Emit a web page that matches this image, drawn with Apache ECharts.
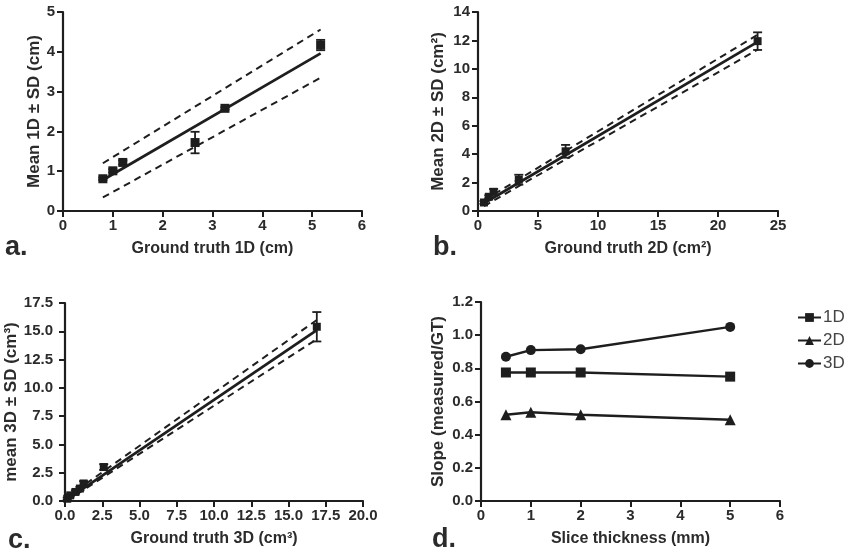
<!DOCTYPE html>
<html>
<head>
    <meta charset="utf-8">
    <title>Measured vs ground truth</title>
    <script src="https://cdn.jsdelivr.net/npm/echarts@6.0.0/dist/echarts.min.js"></script>
    <style>
        html, body { margin: 0; padding: 0; background: #fff; }
    </style>
</head>
<body>
    <div id="chart" style="width:849px; height:552px"></div>

    <script>
        // panel a: 1D
        const aX = [0.8, 1.0, 1.2, 2.65, 3.25, 5.17];
        const aY = [0.81, 1.01, 1.22, 1.72, 2.58, 4.17];
        const aSD = [0.03, 0.04, 0.05, 0.27, 0.03, 0.13];
        const aFitX = [0.8, 5.17];
        const aFit = [0.78, 3.96];
        const aUpper = [1.2, 4.56];
        const aLower = [0.34, 3.35];

        // panel b: 2D
        const bX = [0.5, 0.9, 1.3, 3.4, 7.3, 23.3];
        const bY = [0.6, 1.0, 1.35, 2.2, 4.2, 11.95];
        const bSD = [0.1, 0.1, 0.2, 0.35, 0.45, 0.62];
        const bFitX = [0.5, 23.3];
        const bFit = [0.55, 11.9];
        const bUpper = [0.75, 12.4];
        const bLower = [0.35, 11.35];

        // panel c: 3D
        const cX = [0.15, 0.35, 0.7, 1.0, 1.25, 2.6, 16.9];
        const cY = [0.2, 0.5, 0.8, 1.1, 1.55, 3.0, 15.4];
        const cSD = [0.1, 0.1, 0.15, 0.15, 0.2, 0.25, 1.3];
        const cFitX = [0.1, 16.9];
        const cFit = [0.1, 15.1];
        const cUpper = [0.3, 16.0];
        const cLower = [0.0, 14.3];

        // panel d: slope vs slice thickness
        const dX = [0.5, 1, 2, 5];
        const d1D = [0.775, 0.775, 0.775, 0.75];
        const d2D = [0.52, 0.535, 0.52, 0.49];
        const d3D = [0.87, 0.91, 0.915, 1.05];

        const ink = '#1e1e1e';
        const txt = '#2b2b2b';
        const font = '"Liberation Sans", Arial, sans-serif';

        let chart = echarts.init(document.getElementById('chart'));

        function pairs(xs, ys) {
            return xs.map((x, i) => [x, ys[i]]);
        }

        function makeX(idx, name, min, max, interval, fmt) {
            return {
                type: 'value', gridIndex: idx, min: min, max: max, interval: interval,
                name: name, nameLocation: 'middle', nameGap: 30,
                nameTextStyle: { fontFamily: font, fontWeight: 'bold', fontSize: 16, color: txt },
                axisLine: { show: true, onZero: false, lineStyle: { color: ink, width: 2.2 } },
                axisTick: { show: true, length: 6, lineStyle: { color: ink, width: 2 } },
                axisLabel: { fontFamily: font, fontWeight: 'bold', fontSize: 15, color: txt, margin: 7, formatter: fmt },
                splitLine: { show: false }
            };
        }

        function makeY(idx, name, min, max, interval, gap, margin, fmt) {
            return {
                type: 'value', gridIndex: idx, min: min, max: max, interval: interval,
                name: name, nameLocation: 'middle', nameGap: gap,
                nameTextStyle: { fontFamily: font, fontWeight: 'bold', fontSize: 17, color: txt },
                axisLine: { show: true, onZero: false, lineStyle: { color: ink, width: 2.2 } },
                axisTick: { show: true, length: 6, lineStyle: { color: ink, width: 2 } },
                axisLabel: { fontFamily: font, fontWeight: 'bold', fontSize: 15, color: txt, margin: margin, formatter: fmt },
                splitLine: { show: false }
            };
        }

        function errorBars(idx, xs, ys, sds) {
            return {
                type: 'custom', xAxisIndex: idx, yAxisIndex: idx,
                data: xs.map((x, i) => [x, ys[i], sds[i]]),
                encode: { x: 0, y: 1 },
                silent: true, z: 3,
                renderItem: function(params, api) {
                    let x = api.value(0), y = api.value(1), sd = api.value(2);
                    let top = api.coord([x, y + sd]);
                    let bot = api.coord([x, y - sd]);
                    let w = 4.5;
                    let st = { stroke: ink, lineWidth: 1.8 };
                    return {
                        type: 'group',
                        children: [
                            { type: 'line', shape: { x1: top[0], y1: top[1], x2: bot[0], y2: bot[1] }, style: st },
                            { type: 'line', shape: { x1: top[0] - w, y1: top[1], x2: top[0] + w, y2: top[1] }, style: st },
                            { type: 'line', shape: { x1: bot[0] - w, y1: bot[1], x2: bot[0] + w, y2: bot[1] }, style: st }
                        ]
                    };
                }
            };
        }

        function fitPanel(idx, xs, ys, sds, fx, fit, up, lo, size) {
            return [
                { type: 'line', xAxisIndex: idx, yAxisIndex: idx, data: pairs(fx, fit), showSymbol: false, silent: true,
                  lineStyle: { color: ink, width: 2.8 }, z: 2 },
                { type: 'line', xAxisIndex: idx, yAxisIndex: idx, data: pairs(fx, up), showSymbol: false, silent: true,
                  lineStyle: { color: ink, width: 2, type: [7, 5] }, z: 2 },
                { type: 'line', xAxisIndex: idx, yAxisIndex: idx, data: pairs(fx, lo), showSymbol: false, silent: true,
                  lineStyle: { color: ink, width: 2, type: [7, 5] }, z: 2 },
                errorBars(idx, xs, ys, sds),
                { type: 'scatter', xAxisIndex: idx, yAxisIndex: idx, data: pairs(xs, ys), symbol: 'rect', symbolSize: size,
                  itemStyle: { color: ink, opacity: 1 }, z: 4 }
            ];
        }

        function dLine(name, ys, symbol, size) {
            return {
                name: name, type: 'line', xAxisIndex: 3, yAxisIndex: 3, data: pairs(dX, ys),
                symbol: symbol, symbolSize: size, showSymbol: true,
                lineStyle: { color: ink, width: 2.4 }, itemStyle: { color: ink, opacity: 1 }
            };
        }

        const one = v => v.toFixed(1);
        const pnl = (text, x, y) => ({
            type: 'text', x: x, y: y,
            style: { text: text, font: 'bold 27px ' + font, fill: txt, verticalAlign: 'bottom' }
        });

        let option = {
            animation: false,
            backgroundColor: '#fff',
            grid: [
                { left: 63, top: 12, width: 299, height: 199, outerBoundsMode: 'none' },
                { left: 478, top: 12, width: 300, height: 199, outerBoundsMode: 'none' },
                { left: 65, top: 303, width: 298, height: 198, outerBoundsMode: 'none' },
                { left: 481, top: 302, width: 299, height: 199, outerBoundsMode: 'none' }
            ],
            xAxis: [
                makeX(0, 'Ground truth 1D (cm)', 0, 6, 1),
                makeX(1, 'Ground truth 2D (cm²)', 0, 25, 5),
                makeX(2, 'Ground truth 3D (cm³)', 0, 20, 2.5, one),
                makeX(3, 'Slice thickness (mm)', 0, 6, 1)
            ],
            yAxis: [
                makeY(0, 'Mean 1D ± SD (cm)', 0, 5, 1, 20, 8),
                makeY(1, 'Mean 2D ± SD (cm²)', 0, 14, 2, 31, 8),
                makeY(2, 'mean 3D ± SD (cm³)', 0, 17.5, 2.5, 40, 12, one),
                makeY(3, 'Slope (measured/GT)', 0, 1.2, 0.2, 34, 8, one)
            ],
            legend: {
                orient: 'vertical', left: 797, top: 309, padding: 0,
                itemWidth: 23, itemHeight: 11, itemGap: 6,
                textStyle: { fontFamily: font, fontSize: 17, color: '#444', padding: [0, 0, 0, -3] },
                data: ['1D', '2D', '3D']
            },
            graphic: [
                pnl('a.', 5, 261),
                pnl('b.', 433, 261),
                pnl('c.', 8, 554),
                pnl('d.', 432, 553)
            ],
            series: [].concat(
                fitPanel(0, aX, aY, aSD, aFitX, aFit, aUpper, aLower, 9),
                fitPanel(1, bX, bY, bSD, bFitX, bFit, bUpper, bLower, 8),
                fitPanel(2, cX, cY, cSD, cFitX, cFit, cUpper, cLower, 8),
                [
                    dLine('1D', d1D, 'rect', 10),
                    dLine('2D', d2D, 'triangle', 11),
                    dLine('3D', d3D, 'circle', 10)
                ]
            )
        };

        chart.setOption(option);
    </script>
</body>
</html>
